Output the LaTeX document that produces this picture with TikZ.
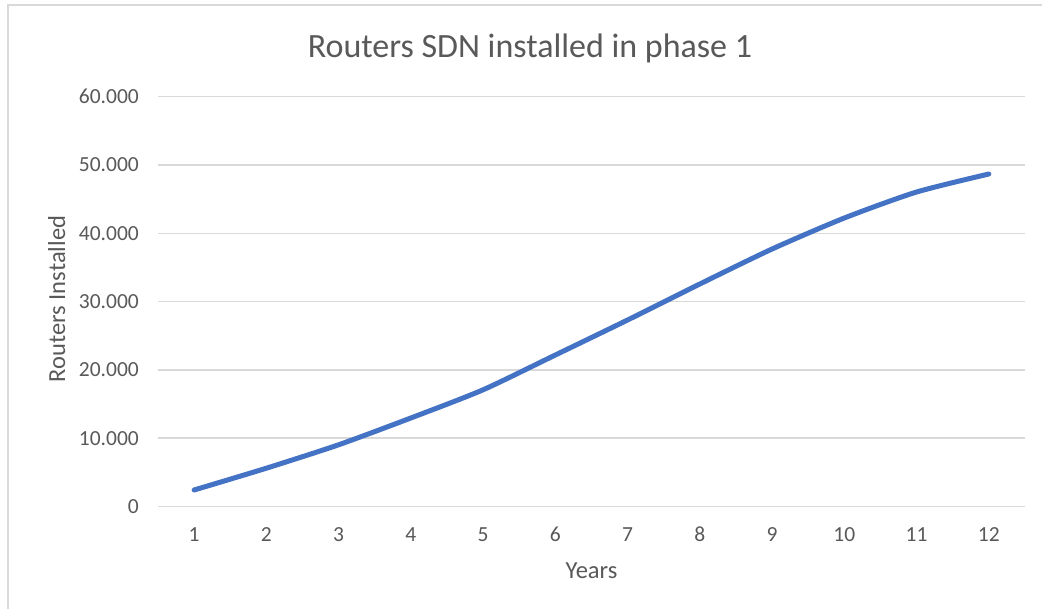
\documentclass[tikz,border=0pt]{standalone}
\usepackage{fontspec}
\setmainfont{Carlito}
\definecolor{txt}{HTML}{595959}
\definecolor{grid}{HTML}{D9D9D9}
\definecolor{serie}{HTML}{4472C4}
\begin{document}
\begin{tikzpicture}[x=1pt,y=-1pt,
  gridline/.style={draw=grid,line width=1.4pt},
  ticklab/.style={text=txt,font=\fontsize{21.5}{24}\selectfont,inner sep=0pt},
  axtitle/.style={text=txt,font=\fontsize{24.5}{28}\selectfont,inner sep=0pt},
  charttitle/.style={text=txt,font=\fontsize{34}{40}\selectfont,inner sep=0pt},
  serieline/.style={draw=serie,line width=5pt,line cap=round,line join=round}]
\useasboundingbox (0,0) rectangle (1042,609);
\fill[white] (0,0) rectangle (1042,609);
% chart border
\draw[grid,line width=2pt] (8,620) -- (8,5) -- (1050,5);
% gridlines and y labels
\foreach \v/\lab [count=\i from 0] in {0/0,10/10.000,20/20.000,30/30.000,40/40.000,50/50.000,60/60.000}{
  \pgfmathsetmacro{\yy}{506.5-6.83*\v}
  \coordinate (gl\i) at (158,\yy);
  \coordinate (gr\i) at (1025,\yy);
  \draw[gridline] (gl\i) -- (gr\i);
  \node[ticklab,anchor=east] (yl\i) at (139,\yy) {\lab};
}
% x labels
\foreach \k in {1,...,12}{
  \pgfmathsetmacro{\xx}{194.1+72.25*(\k-1)}
  \node[ticklab,anchor=base] (xl\k) at (\xx,541.5) {\k};
}
% axis titles
\node[axtitle,anchor=base] (xtitle) at (591.5,578.5) {Years};
\node[axtitle,rotate=90,anchor=base] (ytitle) at (65,299) {Routers Installed};
\node[charttitle,anchor=base] (title) at (530,57.5) {Routers SDN installed in phase 1};
% data series
\draw[serieline] plot[smooth,tension=0.4] coordinates {
  (194.1,490.0) (266.35,468.2) (338.6,444.8) (410.85,418.0) (483.1,389.8)
  (555.35,355.0) (627.6,320.0) (699.85,284.0) (772.1,249.0) (844.35,218.0)
  (916.6,192.0) (988.85,174.0)};
\end{tikzpicture}
\end{document}
